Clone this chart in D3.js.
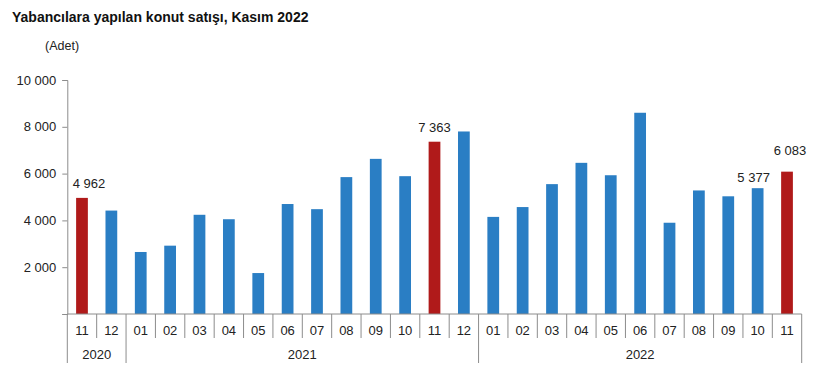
<!DOCTYPE html>
<html>

<head>
    <meta charset="utf-8">
    <title>Yabancılara yapılan konut satışı</title>
    <script src="https://d3js.org/d3.v7.min.js"></script>
    <style>
        body { margin: 0; background: #fff; }
        text { font-family: "Liberation Sans", Arial, sans-serif; }
    </style>
</head>

<body>
    <svg width="821" height="377" id="mainSvg"></svg>
    <script>
        // veri
        const months = ["11", "12", "01", "02", "03", "04", "05", "06", "07", "08", "09", "10", "11",
            "12", "01", "02", "03", "04", "05", "06", "07", "08", "09", "10", "11"];
        const years = ["2020", "2020", "2021", "2021", "2021", "2021", "2021", "2021", "2021", "2021", "2021", "2021", "2021",
            "2021", "2022", "2022", "2022", "2022", "2022", "2022", "2022", "2022", "2022", "2022", "2022"];
        const sales = [4962, 4420, 2650, 2920, 4240, 4050, 1750, 4700, 4480, 5850, 6630, 5890, 7363,
            7800, 4150, 4570, 5550, 6460, 5930, 8600, 3900, 5280, 5030, 5377, 6083];
        const highlighted = [0, 12, 24];           // kasım ayları (kırmızı)
        const labelled = [0, 12, 23, 24];          // değer etiketi olan çubuklar
        const yTicks = [0, 2000, 4000, 6000, 8000, 10000];

        const svg = d3.select("#mainSvg");
        const margin = { left: 67.3, right: 19.3, top: 80, bottom: 63 };
        const width = 821, height = 377;
        const innerH = height - margin.top - margin.bottom;

        const keys = months.map((m, i) => i);

        const x = d3.scaleBand()
            .domain(keys)
            .range([margin.left, width - margin.right])
            .paddingInner(0.6)
            .paddingOuter(0.3);

        const y = d3.scaleLinear()
            .domain([0, 10000])
            .range([margin.top + innerH, margin.top]);

        const fmt = v => d3.format(",")(v).replace(/,/g, " ");

        // başlık
        svg.append("text")
            .attr("x", 12).attr("y", 22)
            .attr("font-size", 14).attr("font-weight", "bold").attr("fill", "#111")
            .text("Yabancılara yapılan konut satışı, Kasım 2022");

        svg.append("text")
            .attr("x", 45).attr("y", 50)
            .attr("font-size", 12.5).attr("fill", "#222")
            .text("(Adet)");

        // y ekseni
        const yAxis = d3.axisLeft(y)
            .tickValues(yTicks)
            .tickSize(5)
            .tickPadding(6)
            .tickFormat(d => d === 0 ? "" : fmt(d));

        const yg = svg.append("g")
            .attr("transform", `translate(${margin.left},0)`)
            .call(yAxis);
        yg.select(".domain").attr("stroke", "#8c8c8c");
        yg.selectAll(".tick line").attr("stroke", "#8c8c8c");
        yg.selectAll(".tick text").attr("font-size", 13).attr("fill", "#222")
            .attr("font-family", "Liberation Sans, Arial, sans-serif");

        // çubuklar
        svg.append("g").selectAll("rect")
            .data(sales)
            .join("rect")
            .attr("x", (d, i) => x(i))
            .attr("width", x.bandwidth())
            .attr("y", d => y(d))
            .attr("height", d => y(0) - y(d))
            .attr("fill", (d, i) => highlighted.includes(i) ? "#b01a1a" : "#2a7ec4");

        // değer etiketleri
        const labelShift = { 0: [7, -10], 12: [0, -10], 23: [-4, -6], 24: [3, -17] };
        svg.append("g").selectAll("text")
            .data(labelled)
            .join("text")
            .attr("x", i => x(i) + x.bandwidth() / 2 + labelShift[i][0])
            .attr("y", i => y(sales[i]) + labelShift[i][1])
            .attr("text-anchor", "middle")
            .attr("font-size", 13)
            .attr("fill", "#222")
            .text(i => fmt(sales[i]));

        // x ekseni
        const step = x.step();
        const x0 = margin.left;
        const base = y(0);
        const axisG = svg.append("g").attr("stroke", "#8c8c8c").attr("fill", "none");

        axisG.append("line")
            .attr("x1", x0).attr("x2", width - margin.right)
            .attr("y1", base).attr("y2", base);

        // ay ayırıcıları
        const bounds = d3.range(months.length + 1);
        const yearStart = bounds.filter(b => b === 0 || b === months.length || years[b] !== years[b - 1]);
        axisG.selectAll(".sep")
            .data(bounds)
            .join("line")
            .attr("x1", b => x0 + b * step).attr("x2", b => x0 + b * step)
            .attr("y1", base)
            .attr("y2", b => yearStart.includes(b) ? base + 49 : base + 24);

        // ay etiketleri
        svg.append("g").selectAll("text")
            .data(months)
            .join("text")
            .attr("x", (d, i) => x(i) + x.bandwidth() / 2)
            .attr("y", base + 21)
            .attr("text-anchor", "middle")
            .attr("font-size", 13)
            .attr("fill", "#222")
            .text(d => d);

        // yıl etiketleri
        const yearGroups = d3.groups(keys, i => years[i]);
        svg.append("g").selectAll("text")
            .data(yearGroups)
            .join("text")
            .attr("x", g => x0 + (g[1][0] + (g[1][g[1].length - 1] + 1)) / 2 * step)
            .attr("y", base + 45)
            .attr("text-anchor", "middle")
            .attr("font-size", 13)
            .attr("fill", "#222")
            .text(g => g[0]);
    </script>
</body>

</html>
